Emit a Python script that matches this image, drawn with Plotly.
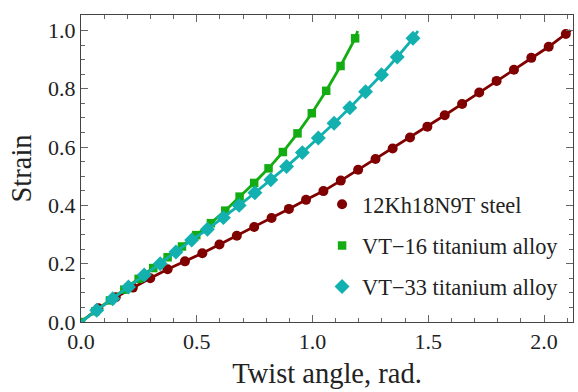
import plotly.graph_objects as go

# Data
steel_name = "12Kh18N9T steel"
steel_x = [0.075, 0.150, 0.224, 0.299, 0.374, 0.449, 0.524, 0.598, 0.673, 0.748,
           0.823, 0.898, 0.972, 1.047, 1.122, 1.197, 1.272, 1.346, 1.421, 1.496,
           1.571, 1.646, 1.720, 1.795, 1.870, 1.945, 2.020, 2.094]
steel_y = [0.047, 0.085, 0.118, 0.150, 0.181, 0.208, 0.236, 0.266, 0.296, 0.326,
           0.357, 0.388, 0.419, 0.449, 0.485, 0.522, 0.559, 0.595, 0.633, 0.670,
           0.709, 0.748, 0.787, 0.827, 0.865, 0.906, 0.944, 0.988]

vt16_name = "VT\u221216 titanium alloy"
vt16_x = [0.0, 0.062, 0.125, 0.187, 0.249, 0.312, 0.374, 0.436, 0.498, 0.561, 0.623,
          0.685, 0.748, 0.810, 0.872, 0.935, 0.997, 1.059, 1.121, 1.184]
vt16_y = [0.0, 0.037, 0.074, 0.111, 0.148, 0.185, 0.222, 0.259, 0.298, 0.339, 0.382,
          0.430, 0.477, 0.527, 0.583, 0.647, 0.716, 0.793, 0.878, 0.973]

vt33_name = "VT\u221233 titanium alloy"
vt33_x = [0.068, 0.137, 0.205, 0.273, 0.342, 0.410, 0.478, 0.546, 0.615, 0.683,
          0.751, 0.820, 0.888, 0.956, 1.025, 1.093, 1.161, 1.229, 1.298, 1.366, 1.434]
vt33_y = [0.040, 0.080, 0.120, 0.161, 0.200, 0.240, 0.281, 0.318, 0.358, 0.400,
          0.443, 0.488, 0.533, 0.581, 0.631, 0.682, 0.735, 0.790, 0.848, 0.909, 0.973]

# end points of the drawn curves (curves start at the origin)
line_start = (0.0, 0.0)
steel_end = (2.115, 1.0)
vt16_end = (1.195, 0.998)
vt33_end = (1.455, 0.998)

x_ticks = [0.0, 0.5, 1.0, 1.5, 2.0]
y_ticks = [0.0, 0.2, 0.4, 0.6, 0.8, 1.0]

C_STEEL = "#800000"
C_VT16 = "#13ad13"
C_VT33 = "#13b0b0"

FONT = "'Liberation Serif', 'Times New Roman', Times, serif"

fig = go.Figure()

series = [
    (steel_name, steel_x, steel_y, steel_end, C_STEEL, "circle", 10),
    (vt16_name, vt16_x, vt16_y, vt16_end, C_VT16, "square", 8.5),
    (vt33_name, vt33_x, vt33_y, vt33_end, C_VT33, "diamond", 11.5),
]

for i, (name, xs, ys, end, col, sym, size) in enumerate(series):
    lx = ([line_start[0]] if xs[0] != 0 else []) + xs + [end[0]]
    ly = ([line_start[1]] if ys[0] != 0 else []) + ys + [end[1]]
    fig.add_trace(go.Scatter(x=lx, y=ly, mode="lines", line=dict(color=col, width=2.8),
                             showlegend=False, hoverinfo="skip"))
    fig.add_trace(go.Scatter(x=xs, y=ys, mode="markers", name=name, legendgroup=f"g{i}",
                             marker=dict(color=col, symbol=sym, size=size, line=dict(width=0))))

axis_common = dict(
    showgrid=False, zeroline=False, showline=True, linecolor="#444", linewidth=1,
    mirror="allticks", ticks="inside", ticklen=7, tickcolor="#666", tickwidth=1,
    tickfont=dict(family=FONT, size=22, color="#222"), tickformat=".1f",
    automargin=False,
)

fig.update_xaxes(range=[0, 2.125], tickvals=x_ticks,
                 minor=dict(dtick=0.1, tick0=0, ticks="inside", ticklen=4, tickcolor="#666"),
                 title=dict(text="Twist angle, rad.", font=dict(family=FONT, size=28.5, color="#222"),
                            standoff=9),
                 **axis_common)
fig.update_yaxes(range=[0, 1.053], tickvals=y_ticks,
                 minor=dict(dtick=0.05, tick0=0, ticks="inside", ticklen=4, tickcolor="#666"),
                 title=dict(text="Strain", font=dict(family=FONT, size=28.5, color="#222"),
                            standoff=8),
                 **axis_common)

fig.update_layout(
    width=578, height=392,
    margin=dict(l=81, r=5, t=15, b=70, autoexpand=False),
    paper_bgcolor="white", plot_bgcolor="white",
    legend=dict(x=0.49, y=0.452, xanchor="left", yanchor="top",
                font=dict(family=FONT, size=22.4, color="#222"),
                bgcolor="rgba(0,0,0,0)", tracegroupgap=9),
)

fig.write_html("out.html", config={"displayModeBar": False},
               post_script="document.body.style.margin='0';")
